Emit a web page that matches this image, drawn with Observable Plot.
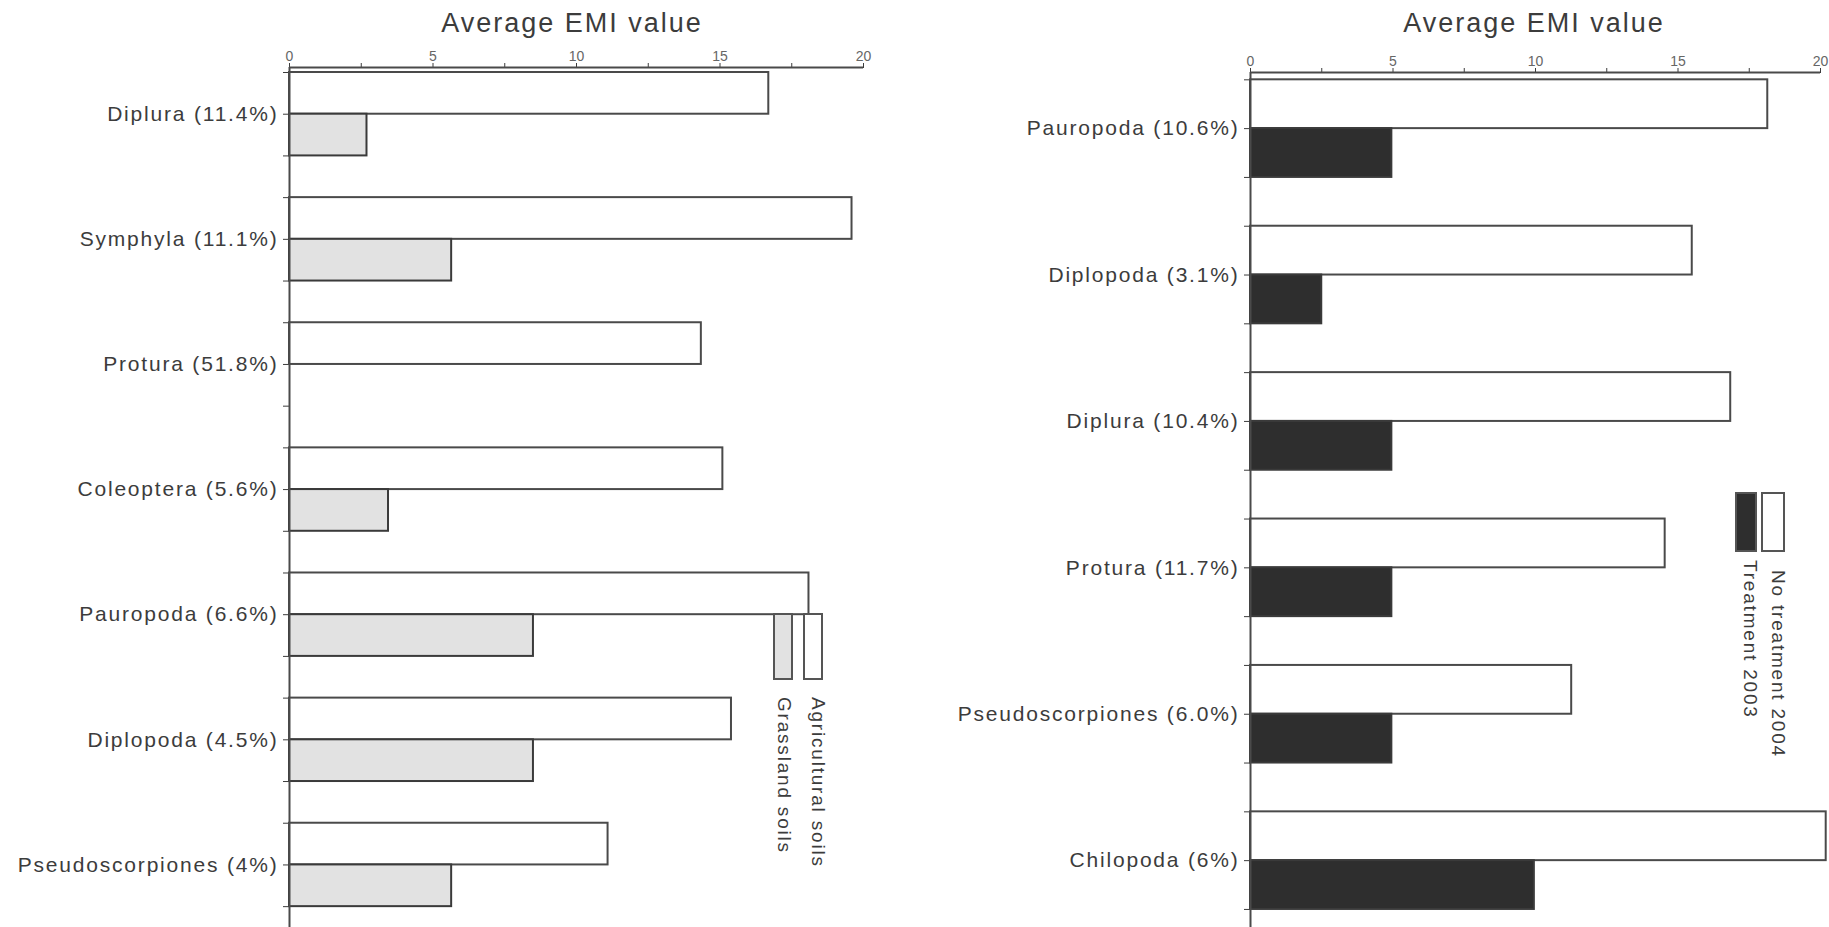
<!DOCTYPE html>
<html><head><meta charset="utf-8">
<script src="https://cdn.jsdelivr.net/npm/d3@7"></script>
<script src="https://cdn.jsdelivr.net/npm/@observablehq/plot@0.6"></script>
<style>
html,body{margin:0;padding:0;background:#fff;}
#page{position:relative;width:1829px;height:927px;overflow:hidden;font-family:"Liberation Sans",Arial,sans-serif;color:#3c3c3c;}
.chart{position:absolute;top:0;}
.title{position:absolute;top:8px;font-size:27px;letter-spacing:2px;white-space:nowrap;transform:translateX(-50%);}
.lgbox{position:absolute;box-sizing:border-box;border:2px solid #555;}
.lgtext{position:absolute;font-size:19px;letter-spacing:1.8px;line-height:20px;white-space:nowrap;transform-origin:0 0;transform:rotate(90deg);}
svg [aria-label="x-axis tick label"] text, svg [aria-label="x-axis"] text{font-size:14px;letter-spacing:0;fill:#666;}
</style></head>
<body><div id="page"></div>
<script>
// ---- data ----
const leftCategories = ["Diplura (11.4%)", "Symphyla (11.1%)", "Protura (51.8%)", "Coleoptera (5.6%)", "Pauropoda (6.6%)", "Diplopoda (4.5%)", "Pseudoscorpiones (4%)"];
const leftWhite = [16.7, 19.6, 14.35, 15.1, 18.1, 15.4, 11.1];
const leftGray  = [2.7, 5.65, 0, 3.45, 8.5, 8.5, 5.65];
const leftLegend = ["Grassland soils", "Agricultural soils"]; // [gray series, white series]

const rightCategories = ["Pauropoda (10.6%)", "Diplopoda (3.1%)", "Diplura (10.4%)", "Protura (11.7%)", "Pseudoscorpiones (6.0%)", "Chilopoda (6%)"];
const rightWhite = [18.15, 15.5, 16.85, 14.55, 11.27, 20.2];
const rightBlack = [4.96, 2.5, 4.96, 4.96, 4.96, 9.96];
const rightLegend = ["Treatment 2003", "No treatment 2004"]; // [black series, white series]

const axisTitle = "Average EMI value";
const xTicks = [0, 2.5, 5, 7.5, 10, 12.5, 15, 17.5, 20];

function chart({cats, white, other, otherFill, width, marginLeft, marginRight, marginTop, yDomain}) {
  const whiteRows = cats.map((c, i) => ({cat: c, v: white[i], y1: 3 * i - 1, y2: 3 * i}));
  const otherRows = cats.map((c, i) => ({cat: c, v: other[i], y1: 3 * i, y2: 3 * i + 1})).filter(d => d.v > 0);
  const tickVals = cats.flatMap((c, i) => [3 * i - 1, 3 * i, 3 * i + 1]);
  return Plot.plot({
    width, height: 927, marginLeft, marginRight, marginTop, marginBottom: 0,
    style: {fontFamily: "Liberation Sans, Arial, sans-serif", fontSize: "21px", color: "#3c3c3c", letterSpacing: "1.8px", background: "transparent", overflow: "visible"},
    x: {domain: [0, 20], axis: "top", ticks: xTicks, tickFormat: d => d % 5 === 0 ? String(d) : "", tickSize: 5, tickPadding: 2, label: null},
    y: {domain: yDomain, ticks: tickVals, tickFormat: v => v % 3 === 0 ? cats[v / 3] : "", tickSize: 6, tickPadding: 5, label: null},
    marks: [
      Plot.rect(whiteRows, {x1: d => 0, x2: "v", y1: "y1", y2: "y2", fill: "#ffffff", stroke: "#4a4a4a", strokeWidth: 2}),
      Plot.rect(otherRows, {x1: d => 0, x2: "v", y1: "y1", y2: "y2", fill: otherFill, stroke: "#3a3a3a", strokeWidth: 2}),
      Plot.ruleX([0], {stroke: "#4a4a4a", strokeWidth: 2}),
      Plot.ruleY([yDomain[1]], {stroke: "#4a4a4a", strokeWidth: 2})
    ]
  });
}

const page = document.getElementById("page");
function place(el, left) { el.classList.add("chart"); el.style.left = left + "px"; page.appendChild(el); }

place(chart({cats: leftCategories, white: leftWhite, other: leftGray, otherFill: "#e2e2e2",
  width: 900, marginLeft: 289, marginRight: 37, marginTop: 67, yDomain: [19.5, -1.12]}), 0);
place(chart({cats: rightCategories, white: rightWhite, other: rightBlack, otherFill: "#2e2e2e",
  width: 909, marginLeft: 330, marginRight: 9, marginTop: 72, yDomain: [16.37, -1.15]}), 920);

function addDiv(cls, css, text) {
  const d = document.createElement("div");
  d.className = cls; Object.assign(d.style, css);
  if (text != null) d.textContent = text;
  page.appendChild(d); return d;
}
addDiv("title", {left: "572px"}, axisTitle);
addDiv("title", {left: "1534px"}, axisTitle);

// legends
addDiv("lgbox", {left: "773px", top: "613px", width: "20px", height: "67px", background: "#e2e2e2"});
addDiv("lgbox", {left: "803px", top: "613px", width: "20px", height: "67px", background: "#fff"});
addDiv("lgtext", {left: "794px", top: "697px"}, leftLegend[0]);
addDiv("lgtext", {left: "828px", top: "697px"}, leftLegend[1]);

addDiv("lgbox", {left: "1735px", top: "492px", width: "22px", height: "60px", background: "#2e2e2e"});
addDiv("lgbox", {left: "1761px", top: "492px", width: "24px", height: "60px", background: "#fff"});
addDiv("lgtext", {left: "1760px", top: "560px"}, rightLegend[0]);
addDiv("lgtext", {left: "1788px", top: "570px"}, rightLegend[1]);
</script>
</body></html>
